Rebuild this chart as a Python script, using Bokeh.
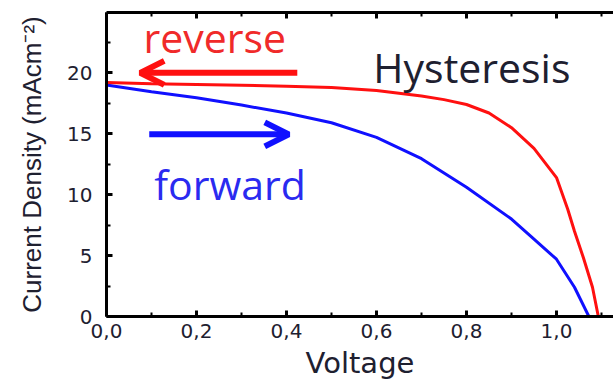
from bokeh.plotting import figure
from bokeh.models import (LinearAxis, FixedTicker, CustomJSTickFormatter, Arrow,
                          OpenHead, Range1d, ColumnDataSource, Label)
from bokeh.embed import file_html
from bokeh.resources import INLINE

# J-V sweep of a perovskite cell, reverse and forward scan
voltage_reverse = [0.0, 0.1, 0.2, 0.3, 0.4, 0.5, 0.6, 0.7, 0.75, 0.8, 0.85, 0.9,
                   0.95, 1.0, 1.025, 1.04, 1.06, 1.08, 1.093]
current_reverse = [19.2, 19.1, 19.05, 18.98, 18.9, 18.8, 18.55, 18.1, 17.8, 17.4,
                   16.7, 15.5, 13.8, 11.4, 8.8, 7.0, 4.8, 2.4, 0.0]

voltage_forward = [0.0, 0.1, 0.2, 0.3, 0.4, 0.5, 0.6, 0.7, 0.8, 0.9, 0.95, 1.0,
                   1.04, 1.072]
current_forward = [19.0, 18.45, 17.95, 17.35, 16.7, 15.9, 14.7, 12.95, 10.6, 8.0,
                   6.35, 4.7, 2.4, 0.0]

x_major_ticks = [0.0, 0.2, 0.4, 0.6, 0.8, 1.0]
x_minor_ticks = [0.1, 0.3, 0.5, 0.7, 0.9, 1.1]
y_major_ticks = [0, 5, 10, 15, 20]
y_minor_ticks = [2.5, 7.5, 12.5, 17.5, 22.5]

RED = "#ff1010"
BLUE = "#1010ff"
TEXT_DARK = "#1e2030"

p = figure(width=613, height=382, output_backend="svg", toolbar_location=None,
           x_range=Range1d(0, 1.1267), y_range=Range1d(0, 24.95))
p.min_border_left = 106
p.min_border_right = 0
p.min_border_top = 12
p.min_border_bottom = 66
p.outline_line_color = None
p.xgrid.visible = False
p.ygrid.visible = False
p.background_fill_color = "white"
p.border_fill_color = "white"

src_rev = ColumnDataSource(dict(v=voltage_reverse, j=current_reverse))
src_fwd = ColumnDataSource(dict(v=voltage_forward, j=current_forward))
p.line("v", "j", source=src_fwd, line_color=BLUE, line_width=3)
p.line("v", "j", source=src_rev, line_color=RED, line_width=3)

comma_fmt = CustomJSTickFormatter(code="return tick.toFixed(1).replace('.', ',');")
int_fmt = CustomJSTickFormatter(code="return tick.toFixed(0);")
blank_fmt = CustomJSTickFormatter(code="return '';")


def style_axis(ax):
    ax.axis_line_width = 3
    ax.axis_line_color = "black"
    ax.major_tick_line_width = 3
    ax.minor_tick_line_width = 2
    ax.major_tick_line_color = "black"
    ax.minor_tick_line_color = "black"
    ax.major_tick_in = 6
    ax.major_tick_out = 0
    ax.minor_tick_in = 4
    ax.minor_tick_out = 0
    ax.major_label_text_font = "DejaVu Sans"
    ax.major_label_text_font_size = "20px"
    ax.major_label_text_color = TEXT_DARK
    ax.axis_label_text_color = TEXT_DARK
    ax.axis_label_text_font_style = "normal"


xax = p.xaxis[0]
style_axis(xax)
xax.ticker = FixedTicker(ticks=x_major_ticks, minor_ticks=x_minor_ticks)
xax.formatter = comma_fmt
xax.major_label_standoff = 7
xax.axis_label = "Voltage"
xax.axis_label_text_font = "DejaVu Sans"
xax.axis_label_text_font_size = "29px"
xax.axis_label_standoff = 5

yax = p.yaxis[0]
style_axis(yax)
yax.ticker = FixedTicker(ticks=y_major_ticks, minor_ticks=y_minor_ticks)
yax.formatter = int_fmt
yax.major_label_standoff = 14
yax.axis_label = "Current Density (mAcm⁻²)"
yax.axis_label_text_font = "Liberation Sans"
yax.axis_label_text_font_size = "26px"
yax.axis_label_standoff = 17

top = LinearAxis(ticker=FixedTicker(ticks=x_major_ticks + [1.2], minor_ticks=x_minor_ticks),
                 formatter=blank_fmt)
style_axis(top)
top.major_label_standoff = 0
p.add_layout(top, "above")

# scan direction arrows
p.add_layout(Arrow(x_start=0.424, y_start=20.0, x_end=0.075, y_end=20.0,
                   line_color=RED, line_width=6,
                   end=OpenHead(size=24, line_color=RED, line_width=6)))
p.add_layout(Arrow(x_start=0.095, y_start=14.95, x_end=0.405, y_end=14.95,
                   line_color=BLUE, line_width=6,
                   end=OpenHead(size=24, line_color=BLUE, line_width=6)))

for txt, x, y, color in [("reverse", 0.082, 22.9, "#f02a2a"),
                         ("Hysteresis", 0.593, 20.45, TEXT_DARK),
                         ("forward", 0.106, 10.86, "#2a2af0")]:
    p.add_layout(Label(x=x, y=y, text=txt, text_font="Open Sans",
                       text_font_size="41px", text_color=color,
                       text_align="left", text_baseline="alphabetic"))

open("out.html", "w").write(file_html(p, INLINE))
